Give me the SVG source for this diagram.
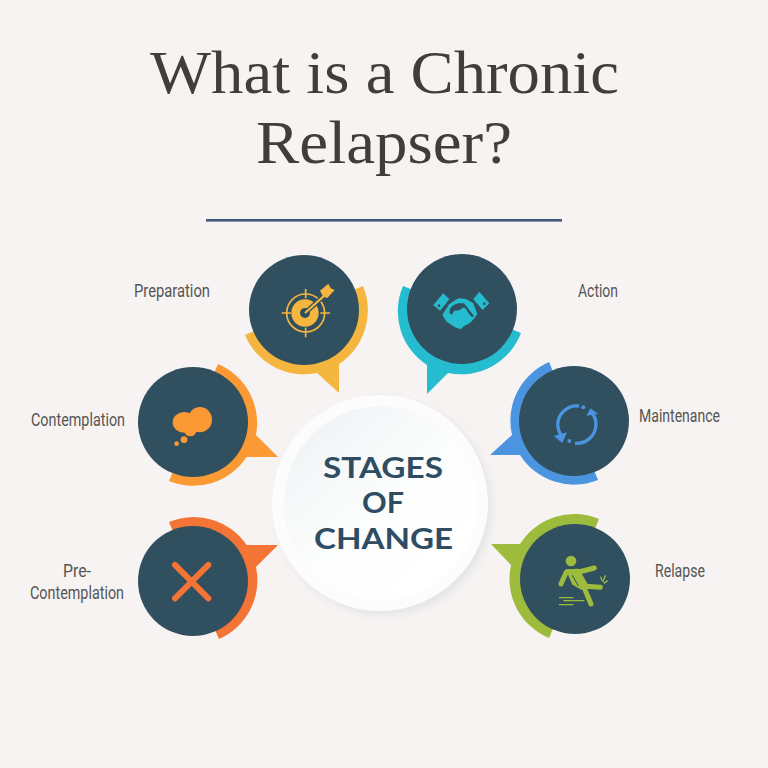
<svg xmlns="http://www.w3.org/2000/svg" width="768" height="768" viewBox="0 0 768 768">
<style>
.title{font-family:"Liberation Serif",serif;font-size:62px;fill:#403e3c}
.lab{font-family:"Roboto","Liberation Sans",sans-serif;font-size:18px;fill:#555554}
.cen{font-family:"Lato","Liberation Sans",sans-serif;font-size:28.5px;font-weight:700;fill:#2f4d62}
.disc{fill:#31505f}
.yellow{fill:#f4b63f}.teal{fill:#26bcd0}.orange{fill:#fb9a35}.blue{fill:#4a94e0}.red{fill:#f47435}.green{fill:#9dbb3d}
</style>
<defs>
<filter id="sh" x="-20%" y="-20%" width="140%" height="140%"><feGaussianBlur stdDeviation="5"/></filter>
<linearGradient id="g" x1="0.15" y1="0.1" x2="0.8" y2="0.85"><stop offset="0" stop-color="#f1f4f6"/><stop offset="0.55" stop-color="#fcfdfd"/><stop offset="1" stop-color="#ffffff"/></linearGradient>
</defs>
<rect width="768" height="768" fill="#f7f3f2"/>
<g id="title">
<text class="title" x="150" y="93" textLength="469" lengthAdjust="spacingAndGlyphs">What is a Chronic</text>
<text class="title" x="256" y="163" textLength="256" lengthAdjust="spacingAndGlyphs">Relapser?</text>
<rect x="206" y="219" width="356" height="2.6" fill="#3f5a78"/>
</g>
<g id="connectors"></g>
<g id="center">
<circle cx="384" cy="507" r="107" fill="#e0e2e3" filter="url(#sh)"/>
<circle cx="380" cy="503" r="108" fill="#fcfcfc"/>
<circle cx="381" cy="503" r="97" fill="url(#g)"/>
<text class="cen" x="323" y="478" textLength="120" lengthAdjust="spacingAndGlyphs">STAGES</text>
<text class="cen" x="362" y="513" textLength="42" lengthAdjust="spacingAndGlyphs">OF</text>
<text class="cen" x="314" y="549" textLength="139" lengthAdjust="spacingAndGlyphs">CHANGE</text>
</g>
<g id="preparation">
<path class="yellow" d="M363 286A64 64 0 0 1 339 364L339 393L317 373A64 64 0 0 1 245 335L304 310Z"/>
<circle class="disc" cx="304" cy="310" r="55"/>
<g transform="translate(230 240) scale(.3333)">
<circle cx="227" cy="219" r="57" fill="none" stroke="#f4b63f" stroke-width="5"/>
<path d="M227 147V175M227 263V292M155 219H183M271 219H300" stroke="#f4b63f" stroke-width="5" fill="none"/>
<circle cx="225" cy="219" r="41" class="yellow"/>
<circle cx="225" cy="219" r="15" class="disc"/>
<path d="M225 219L285 165" stroke="#31505f" stroke-width="14"/>
<path d="M225 219L285 165" stroke="#f4b63f" stroke-width="7"/>
<path class="yellow" d="M270 152L295 131L302 145L314 150L292 174L280 170Z"/>
</g>
<text class="lab" x="134" y="297" textLength="76" lengthAdjust="spacingAndGlyphs">Preparation</text>
</g>
<g id="action">
<path class="teal" d="M521 333A64 64 0 0 1 448 373L427 394L427 365A64 64 0 0 1 403 286L462 309Z"/>
<circle class="disc" cx="462" cy="309" r="55"/>
<g transform="translate(390 240) scale(.3333)">
<path class="teal" d="M130 195L160 160L178 178L150 212Z"/>
<path class="teal" d="M250 178L268 155L298 190L278 210Z"/>
<circle class="disc" cx="147" cy="197" r="4"/><circle class="disc" cx="283" cy="191" r="4"/>
<path class="teal" d="M157 225L178 192L205 175L228 177L250 190L262 222L252 236L243 246L231 254L222 258L212 268L195 262L170 245Z"/>
<path class="disc" d="M178 218Q176 198 205 190L222 190L252 228L246 232L224 206Q208 216 192 214L186 224Z"/>
<path class="teal" d="M192 212Q208 214 222 202L232 212L214 232L190 226Z"/>
</g>
<text class="lab" x="578" y="297" textLength="40" lengthAdjust="spacingAndGlyphs">Action</text>
</g>
<g id="contemplation">
<path class="orange" d="M218 364A64 64 0 0 1 256 435L278 457L246.6 457A64 64 0 0 1 169 481L193 422Z"/>
<circle class="disc" cx="193" cy="422" r="55"/>
<g transform="translate(125 355) scale(.3333)" class="orange">
<ellipse cx="178" cy="202" rx="35" ry="31"/><ellipse cx="225" cy="194" rx="36" ry="38"/><circle cx="196" cy="225" r="19"/>
<circle cx="177" cy="254" r="10"/><circle cx="155" cy="266" r="7"/>
</g>
<text class="lab" x="31" y="426" textLength="94" lengthAdjust="spacingAndGlyphs">Contemplation</text>
</g>
<g id="maintenance">
<path class="blue" d="M598 480A64 64 0 0 1 520 455L490 455L512 435A64 64 0 0 1 549 362L574 421Z"/>
<circle class="disc" cx="574" cy="421" r="55"/>
<g transform="translate(485 355) scale(.3333)">
<path d="M282 153A58 58 0 0 0 218 210A58 58 0 0 0 228 240" fill="none" stroke="#4a94e0" stroke-width="10"/>
<path d="M270 265A58 58 0 0 0 333 210A58 58 0 0 0 320 172" fill="none" stroke="#4a94e0" stroke-width="10"/>
<path class="blue" d="M206 243L246 232L232 264Z"/><path class="blue" d="M340 177L304 182L316 160Z"/>
<circle class="blue" cx="295" cy="157" r="6"/><circle class="blue" cx="253" cy="258" r="6"/>
</g>
<text class="lab" x="639" y="422" textLength="81" lengthAdjust="spacingAndGlyphs">Maintenance</text>
</g>
<g id="pre-contemplation">
<path class="red" d="M169 522A64 64 0 0 1 246.6 545L278 545L256 567A64 64 0 0 1 219 639L193 580Z"/>
<circle class="disc" cx="193" cy="581" r="55"/>
<g transform="translate(125 510) scale(.3333)">
<path d="M150 165L250 265M250 165L150 265" stroke="#f47435" stroke-width="18" stroke-linecap="round" fill="none"/>
</g>
<text class="lab" x="63" y="577" textLength="28" lengthAdjust="spacingAndGlyphs">Pre-</text>
<text class="lab" x="30" y="599" textLength="94" lengthAdjust="spacingAndGlyphs">Contemplation</text>
</g>
<g id="relapse">
<path class="green" d="M549 638A64 64 0 0 1 511 565L491 544L520 544A64 64 0 0 1 599 519L575 578Z"/>
<circle class="disc" cx="575" cy="579" r="55"/>
<g transform="translate(485 510) scale(.3333)">
<circle class="green" cx="258" cy="153" r="16"/>
<path d="M228 222L244 186M282 186L328 174M290 228L346 232M298 234L318 282" stroke="#9dbb3d" stroke-width="15" stroke-linecap="round" fill="none"/>
<path class="green" d="M242 178L282 176L310 226L290 240L262 224Z"/>
<path d="M262 196L280 228" stroke="#31505f" stroke-width="3"/>
<path d="M222 263H265M235 272H298M222 284H265M347 200L351 212M362 196L353 216M368 212L356 220" stroke="#9dbb3d" stroke-width="4" fill="none"/>
</g>
<text class="lab" x="655" y="577" textLength="50" lengthAdjust="spacingAndGlyphs">Relapse</text>
</g>
</svg>
